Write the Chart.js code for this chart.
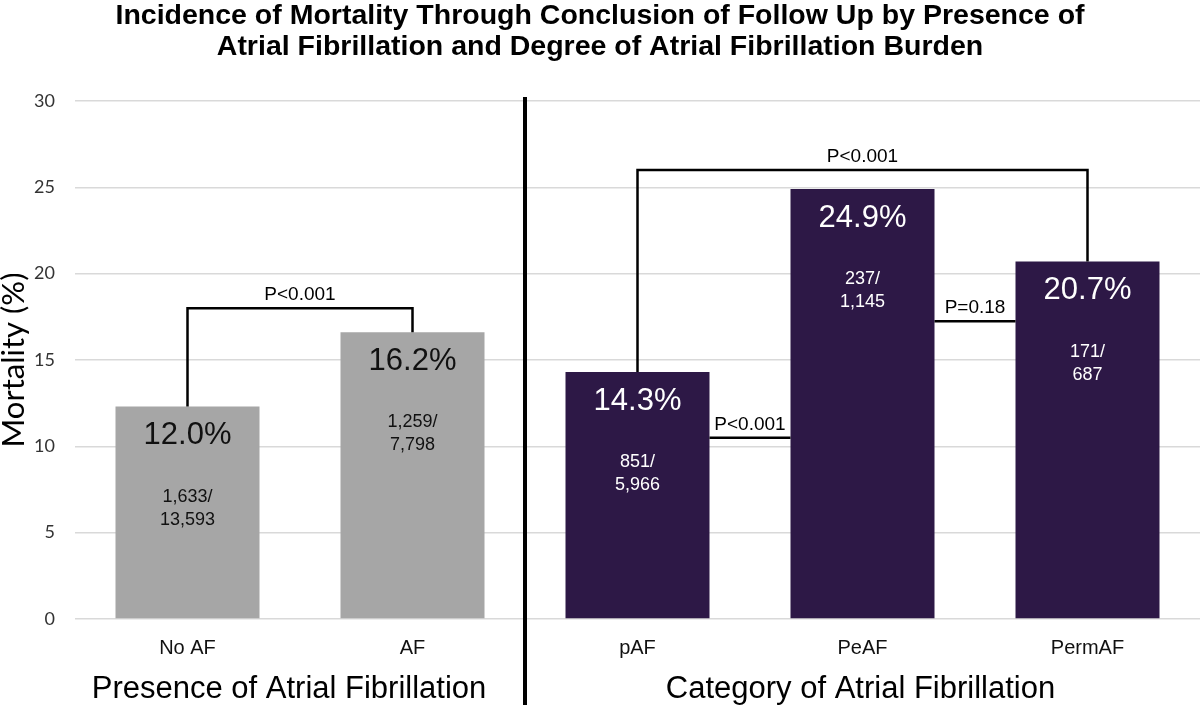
<!DOCTYPE html>
<html>
<head>
<meta charset="utf-8">
<script src="https://cdn.jsdelivr.net/npm/chart.js@4.4.1/dist/chart.umd.min.js"></script>
<style>
  html, body { margin: 0; padding: 0; background: #fff; }
  #wrap { width: 1200px; height: 705px; position: relative; }
</style>
</head>
<body>
<div id="wrap"><canvas id="c" width="1200" height="705"></canvas></div>
<script>
  // ---------- data ----------
  var categories = ["No AF", "AF", "pAF", "PeAF", "PermAF"];
  var mortality = [12.3, 16.6, 14.3, 24.9, 20.7];
  var pctLabels = ["12.0%", "16.2%", "14.3%", "24.9%", "20.7%"];
  var countLabels = [["1,633/", "13,593"], ["1,259/", "7,798"], ["851/", "5,966"], ["237/", "1,145"], ["171/", "687"]];
  var barColors = ["#a6a6a6", "#a6a6a6", "#2d1846", "#2d1846", "#2d1846"];
  var labelColors = ["#111", "#111", "#fff", "#fff", "#fff"];
  var groups = [
    { label: "Presence of Atrial Fibrillation", from: 0, to: 1 },
    { label: "Category of Atrial Fibrillation", from: 2, to: 4 }
  ];
  var brackets = [
    { from: 0, to: 1, level: 18.0, text: "P<0.001" },
    { from: 2, to: 4, level: 26.0, text: "P<0.001" }
  ];
  var links = [
    { from: 2, to: 3, level: 10.5, text: "P<0.001" },
    { from: 3, to: 4, level: 17.25, text: "P=0.18" }
  ];
  var titleLines = [
    "Incidence of Mortality Through Conclusion of Follow Up by Presence of",
    "Atrial Fibrillation and Degree of Atrial Fibrillation Burden"
  ];

  var SANS = "'Liberation Sans', Arial, sans-serif";
  var SOFT = "Lato, 'Open Sans', sans-serif";

  var extras = {
    id: "extras",
    afterDatasetsDraw: function (chart) {
      var ctx = chart.ctx, x = chart.scales.x, y = chart.scales.y;
      var meta = chart.getDatasetMeta(0);
      ctx.save();

      // title
      ctx.fillStyle = "#000";
      ctx.textAlign = "center";
      ctx.textBaseline = "alphabetic";
      ctx.font = "bold 28.5px " + SANS;
      titleLines.forEach(function (t, i) { ctx.fillText(t, 600, 24 + i * 31); });

      // labels inside bars
      ctx.textBaseline = "middle";
      meta.data.forEach(function (bar, i) {
        ctx.fillStyle = labelColors[i];
        ctx.font = "31px " + SANS;
        ctx.fillText(pctLabels[i], bar.x, bar.y + 29);
        ctx.font = "18px " + SANS;
        ctx.fillText(countLabels[i][0], bar.x, bar.y + 90);
        ctx.fillText(countLabels[i][1], bar.x, bar.y + 113);
      });

      // brackets
      ctx.strokeStyle = "#000";
      ctx.lineWidth = 2.5;
      ctx.fillStyle = "#000";
      ctx.font = "19px " + SANS;
      ctx.textBaseline = "alphabetic";
      brackets.forEach(function (b) {
        var a = meta.data[b.from], c = meta.data[b.to], ly = y.getPixelForValue(b.level);
        ctx.beginPath();
        ctx.moveTo(a.x, a.y);
        ctx.lineTo(a.x, ly);
        ctx.lineTo(c.x, ly);
        ctx.lineTo(c.x, c.y);
        ctx.stroke();
        ctx.fillText(b.text, (a.x + c.x) / 2, ly - 8);
      });
      links.forEach(function (l) {
        var a = meta.data[l.from], c = meta.data[l.to], ly = y.getPixelForValue(l.level);
        var x0 = a.x + a.width / 2, x1 = c.x - c.width / 2;
        ctx.beginPath();
        ctx.moveTo(x0, ly);
        ctx.lineTo(x1, ly);
        ctx.stroke();
        ctx.fillText(l.text, (x0 + x1) / 2, ly - 8);
      });

      // divider between the two panels
      var dx = (x.getPixelForValue(1) + x.getPixelForValue(2)) / 2;
      ctx.lineWidth = 4;
      ctx.beginPath();
      ctx.moveTo(dx, y.getPixelForValue(30) - 4);
      ctx.lineTo(dx, chart.height);
      ctx.stroke();

      // group labels (left one sits a little left of its pair in the original)
      var shift = [-11, -2];
      ctx.textBaseline = "middle";
      ctx.font = "31px " + SANS;
      groups.forEach(function (g, i) {
        var cx = (x.getPixelForValue(g.from) + x.getPixelForValue(g.to)) / 2;
        ctx.fillText(g.label, cx + shift[i], 689);
      });
      ctx.restore();
    }
  };

  new Chart(document.getElementById("c"), {
    type: "bar",
    data: {
      labels: categories,
      datasets: [{
        data: mortality,
        backgroundColor: barColors,
        barPercentage: 0.64,
        categoryPercentage: 1
      }]
    },
    options: {
      responsive: false,
      animation: false,
      devicePixelRatio: 1,
      layout: { padding: { top: 101, right: 0, left: 0, bottom: 0 } },
      plugins: { legend: { display: false }, tooltip: { enabled: false }, title: { display: false } },
      scales: {
        x: {
          grid: { display: false },
          border: { display: false },
          ticks: { color: "#111", font: { family: SANS, size: 20 }, padding: 9 },
          afterFit: function (s) { s.height = 86; }
        },
        y: {
          min: 0, max: 30,
          grid: { color: "#d9d9d9", lineWidth: 1.5, drawTicks: false },
          border: { display: false },
          ticks: { stepSize: 5, color: "#333", font: { family: SOFT, size: 18 }, padding: 20 },
          title: { display: true, text: "Mortality (%)", color: "#000", font: { family: SOFT, size: 31 }, padding: { top: -5, bottom: 0 } },
          afterFit: function (s) { s.width = 75; }
        }
      }
    },
    plugins: [extras]
  });
</script>
</body>
</html>
